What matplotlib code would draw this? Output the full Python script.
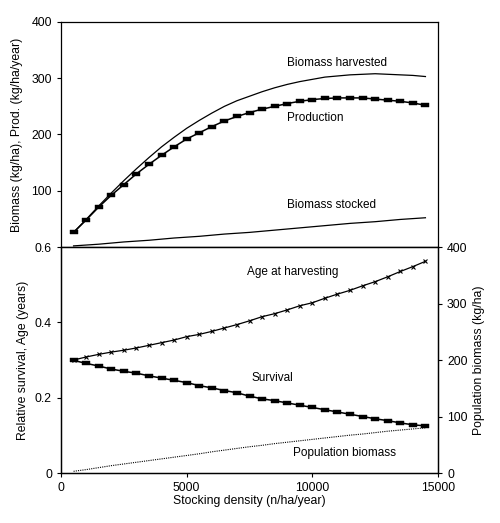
import matplotlib
matplotlib.use("Agg")
import matplotlib.pyplot as plt

plt.rcParams['font.family'] = ['Liberation Sans', 'DejaVu Sans']

# stocking density (n/ha/year), one value every 500
density = [500, 1000, 1500, 2000, 2500, 3000, 3500, 4000, 4500, 5000,
           5500, 6000, 6500, 7000, 7500, 8000, 8500, 9000, 9500, 10000,
           10500, 11000, 11500, 12000, 12500, 13000, 13500, 14000, 14500]

# upper panel (kg/ha, kg/ha/year)
production = [26, 48, 71, 92, 111, 130, 147, 163, 178, 192,
              203, 214, 224, 232, 239, 245, 250, 255, 259, 262,
              264, 265, 265, 265, 263, 261, 259, 256, 252]
biomass_harvested = [26, 49, 73, 96, 118, 139, 159, 178, 195, 211,
                     225, 238, 250, 260, 268, 276, 283, 289, 294, 298,
                     302, 304, 306, 307, 308, 307, 306, 305, 303]
density_stocked = [500, 1500, 2500, 3500, 4500, 5500, 6500, 7500,
                   8500, 9500, 10500, 11500, 12500, 13500, 14500]
biomass_stocked = [2, 5, 9, 12, 16, 19, 23, 26, 30, 34, 38, 42, 45, 49, 52]

# lower panel
age_harvest = [0.300, 0.308, 0.315, 0.321, 0.326, 0.332, 0.339, 0.346, 0.353, 0.362,
               0.368, 0.376, 0.385, 0.394, 0.404, 0.415, 0.423, 0.433, 0.444, 0.452,
               0.464, 0.475, 0.485, 0.497, 0.508, 0.521, 0.535, 0.548, 0.562]
survival = [0.299, 0.291, 0.284, 0.276, 0.270, 0.265, 0.258, 0.252, 0.246, 0.240,
            0.232, 0.226, 0.219, 0.213, 0.204, 0.197, 0.192, 0.186, 0.180, 0.174,
            0.168, 0.162, 0.156, 0.150, 0.144, 0.139, 0.133, 0.128, 0.125]
pop_biomass = [3, 6, 9.5, 13, 16, 19, 22, 25, 28, 31,
               34, 37.5, 40.5, 43.5, 46.5, 49, 52, 54.5, 57, 59.5,
               62, 64.5, 67, 69, 71.5, 74, 76, 78, 80]

rect = [(-2, -1), (2, -1), (2, 1), (-2, 1), (-2, -1)]
fs = 8.8
fs_txt = 8.5

fig = plt.figure(figsize=(5.0, 5.23), dpi=100)
ax1 = fig.add_axes([0.122, 0.5277, 0.754, 0.4303])
ax2 = fig.add_axes([0.122, 0.0956, 0.754, 0.4321])
ax3 = ax2.twinx()

# upper panel
ax1.plot(density, biomass_harvested, color='black', lw=0.9)
ax1.plot(density, production, color='black', lw=1.1, marker=rect, markersize=5.6, mew=0.3)
ax1.plot(density_stocked, biomass_stocked, color='black', lw=0.9)
ax1.set_xlim(0, 15000)
ax1.set_ylim(0, 400)
ax1.set_yticks([100, 200, 300, 400])
ax1.tick_params(axis='x', bottom=False, labelbottom=False)
ax1.tick_params(axis='y', direction='out', length=3, labelsize=fs)
ax1.set_ylabel('Biomass (kg/ha), Prod. (kg/ha/year)', fontsize=fs, labelpad=6)
ax1.text(9000, 327, 'Biomass harvested', fontsize=fs_txt, va='center')
ax1.text(9000, 229, 'Production', fontsize=fs_txt, va='center')
ax1.text(9000, 75, 'Biomass stocked', fontsize=fs_txt, va='center')

# lower panel
ax2.plot(density, age_harvest, color='black', lw=0.9, marker='x', markersize=3.4, mew=0.8)
ax2.plot(density, survival, color='black', lw=1.1, marker=rect, markersize=5.6, mew=0.3)
ax2.set_xlim(0, 15000)
ax2.set_ylim(0, 0.6)
ax2.set_yticks([0, 0.2, 0.4, 0.6])
ax2.set_yticklabels(['0', '0.2', '0.4', '0.6'])
ax2.set_xticks([0, 5000, 10000, 15000])
ax2.tick_params(direction='out', length=3, labelsize=fs)
ax2.set_ylabel('Relative survival, Age (years)', fontsize=fs)
ax2.set_xlabel('Stocking density (n/ha/year)', fontsize=fs, labelpad=1)
ax2.text(7400, 0.534, 'Age at harvesting', fontsize=fs_txt, va='center')
ax2.text(7590, 0.2525, 'Survival', fontsize=fs_txt, va='center')

ax3.plot(density, pop_biomass, color='black', lw=0.8, ls=(0, (1, 1)))
ax3.set_ylim(0, 400)
ax3.set_yticks([0, 100, 200, 300, 400])
ax3.tick_params(direction='out', length=3, labelsize=fs)
ax3.set_ylabel('Population biomass (kg/ha)', fontsize=fs)
ax3.text(9230, 0.0525 * 400 / 0.6, 'Population biomass', fontsize=fs_txt, va='center')

for ax in (ax1, ax2, ax3):
    for s in ax.spines.values():
        s.set_linewidth(0.9)

fig.savefig('out.png', dpi=100)
